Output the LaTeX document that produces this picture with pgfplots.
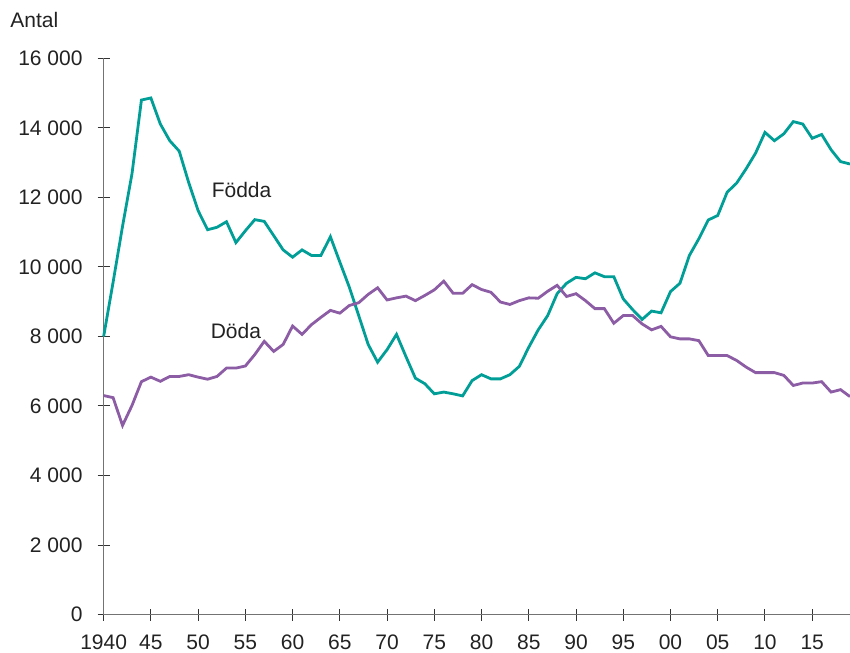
\documentclass[border=0pt]{standalone}
\usepackage{fontspec}
\setmainfont{Liberation Sans}
\usepackage{pgfplots}
\pgfplotsset{compat=1.18}
\definecolor{fcol}{RGB}{0,158,150}
\definecolor{dcol}{RGB}{140,92,164}
\definecolor{txt}{RGB}{34,34,34}
\begin{document}
\begin{tikzpicture}
\begin{axis}[
 at={(0,0)}, anchor=south west,
 scale only axis, width=373pt, height=278pt,
 xmin=1940, xmax=2019, ymin=0, ymax=16000,
 axis x line=bottom, axis y line=left,
 axis line style={-, draw=black!55, line width=0.75pt},
 xtick={1940,1945,...,2015},
 xticklabels={1940,45,50,55,60,65,70,75,80,85,90,95,00,05,10,15},
 ytick={0,2000,4000,6000,8000,10000,12000,14000,16000},
 yticklabels={0,2 000,4 000,6 000,8 000,10 000,12 000,14 000,16 000},
 scaled y ticks=false,
 xtick align=center, ytick align=center, major tick length=6pt,
 tick style={draw=black!80, line width=0.5pt},
 ticklabel style={font=\fontsize{10.5}{12}\selectfont, text=txt},
 xticklabel style={yshift=-3.5pt},
 yticklabel style={xshift=-4pt},
 clip=false,
]
\addplot[fcol, line width=1.4pt] coordinates {
(1940,8000)(1941,9560)(1942,11170)(1943,12680)(1944,14800)(1945,14860)
(1946,14110)(1947,13630)(1948,13330)(1949,12430)(1950,11620)(1951,11070)
(1952,11140)(1953,11300)(1954,10700)(1955,11040)(1956,11360)(1957,11310)
(1958,10900)(1959,10490)(1960,10280)(1961,10490)(1962,10330)(1963,10330)
(1964,10870)(1965,10140)(1966,9420)(1967,8600)(1968,7770)(1969,7260)
(1970,7620)(1971,8060)(1972,7420)(1973,6800)(1974,6640)(1975,6350)
(1976,6400)(1977,6350)(1978,6290)(1979,6730)(1980,6900)(1981,6780)
(1982,6780)(1983,6900)(1984,7140)(1985,7690)(1986,8190)(1987,8600)
(1988,9230)(1989,9530)(1990,9700)(1991,9660)(1992,9830)(1993,9720)
(1994,9720)(1995,9080)(1996,8770)(1997,8490)(1998,8730)(1999,8680)
(2000,9290)(2001,9530)(2002,10330)(2003,10810)(2004,11350)(2005,11480)
(2006,12150)(2007,12410)(2008,12820)(2009,13270)(2010,13870)(2011,13630)
(2012,13830)(2013,14180)(2014,14110)(2015,13700)(2016,13810)(2017,13370)
(2018,13030)(2019,12960)
};
\addplot[dcol, line width=1.4pt] coordinates {
(1940,6300)(1941,6240)(1942,5440)(1943,6015)(1944,6700)(1945,6830)
(1946,6710)(1947,6850)(1948,6850)(1949,6900)(1950,6830)(1951,6770)
(1952,6850)(1953,7090)(1954,7090)(1955,7150)(1956,7480)(1957,7860)
(1958,7570)(1959,7770)(1960,8300)(1961,8060)(1962,8340)(1963,8550)
(1964,8750)(1965,8670)(1966,8890)(1967,8970)(1968,9210)(1969,9400)
(1970,9050)(1971,9110)(1972,9160)(1973,9030)(1974,9180)(1975,9340)
(1976,9590)(1977,9240)(1978,9240)(1979,9490)(1980,9350)(1981,9270)
(1982,8990)(1983,8920)(1984,9030)(1985,9110)(1986,9100)(1987,9300)
(1988,9470)(1989,9150)(1990,9230)(1991,9030)(1992,8800)(1993,8800)
(1994,8380)(1995,8600)(1996,8600)(1997,8360)(1998,8190)(1999,8290)
(2000,7990)(2001,7930)(2002,7930)(2003,7880)(2004,7450)(2005,7450)
(2006,7450)(2007,7310)(2008,7120)(2009,6960)(2010,6960)(2011,6960)
(2012,6880)(2013,6590)(2014,6660)(2015,6660)(2016,6700)(2017,6400)
(2018,6470)(2019,6270)
};
\node[text=txt, font=\fontsize{10.5}{12}\selectfont] at (axis cs:1954.6,12225) {Födda};
\node[text=txt, font=\fontsize{10.5}{12}\selectfont] at (axis cs:1954.0,8171) {Döda};
\end{axis}
\node[anchor=base west, inner sep=0pt, text=txt, font=\fontsize{10.5}{12}\selectfont] at (-46.8pt,293.15pt) {Antal};
\pgfresetboundingbox
\path (-51.8pt,-18.85pt) rectangle (373pt,307.15pt);
\end{tikzpicture}
\end{document}
